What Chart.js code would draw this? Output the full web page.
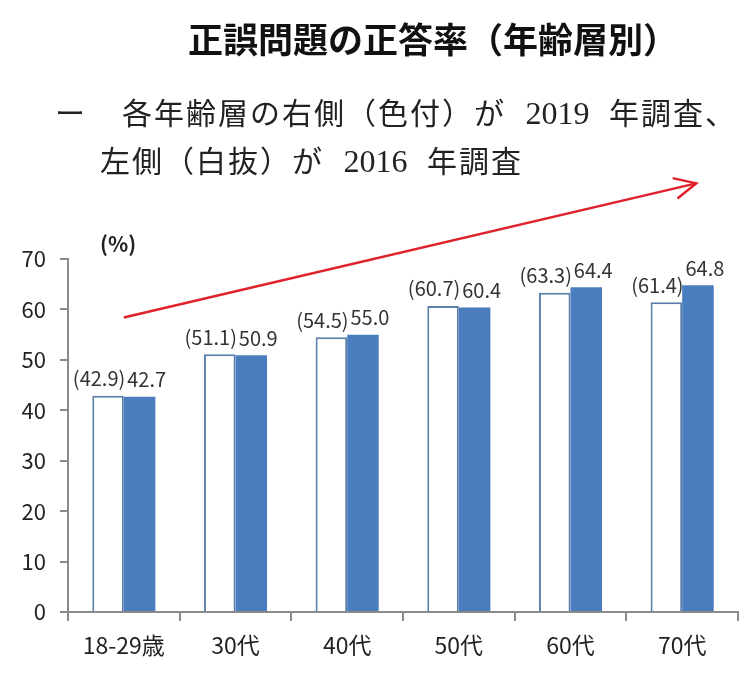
<!DOCTYPE html>
<html>
<head>
<meta charset="utf-8">
<script src="https://cdn.jsdelivr.net/npm/chart.js@4/dist/chart.umd.min.js"></script>
<style>
  html, body { margin: 0; padding: 0; background: #fff; }
  #wrap { position: relative; width: 750px; height: 676px; overflow: hidden; }
  #c { position: absolute; left: 0; top: 0; }
  .t { position: absolute; white-space: nowrap; color: #111; line-height: 1; }
  #title { left: 188px; top: 12px; font: bold 35px "Noto Sans CJK JP", sans-serif; }
  .sub { font: 30px "Liberation Serif", "Noto Sans CJK JP", serif; color: #222; word-spacing: 10px; letter-spacing: 2px; }
  .sub .n { font-size: 32px; letter-spacing: 0; }
  #s0 { left: 55px; top: 89px; }
  #s1 { left: 122px; top: 89px; }
  #s2 { left: 100px; top: 137px; }
  #pct { left: 100px; top: 228px; font: bold 21px "Noto Sans CJK JP", sans-serif; color: #222; }
</style>
</head>
<body>
<div id="wrap">
  <canvas id="c" width="750" height="676"></canvas>
  <div class="t" id="title">正誤問題の正答率（年齢層別）</div>
  <div class="t sub" id="s0">ー</div>
  <div class="t sub" id="s1">各年齢層の右側（色付）が <span class="n">2019</span> 年調査、</div>
  <div class="t sub" id="s2">左側（白抜）が <span class="n">2016</span> 年調査</div>
  <div class="t" id="pct">(%)</div>
</div>
<script>
// age groups
var categories = ["18-29歳", "30代", "40代", "50代", "60代", "70代"];
// 2016 survey (white, left)
var survey2016 = [42.9, 51.1, 54.5, 60.7, 63.3, 61.4];
// 2019 survey (blue, right)
var survey2019 = [42.7, 50.9, 55.0, 60.4, 64.4, 64.8];
var yTicks = [0, 10, 20, 30, 40, 50, 60, 70];

var labelFont = '20px "Noto Sans CJK JP", sans-serif';

var barLabels = {
  id: "barLabels",
  afterDatasetsDraw: function(chart) {
    var ctx = chart.ctx;
    ctx.save();
    ctx.font = labelFont;
    ctx.fillStyle = "#333";
    ctx.textAlign = "center";
    ctx.textBaseline = "bottom";
    chart.data.datasets.forEach(function(ds, di) {
      chart.getDatasetMeta(di).data.forEach(function(bar, i) {
        var v = ds.data[i].toFixed(1);
        if (di === 0) ctx.fillText("(" + v + ")", bar.x - 9, bar.y - 7);
        else ctx.fillText(v, bar.x + 7, bar.y - 7);
      });
    });
    ctx.restore();
  }
};

// red trend arrow, anchored to the scales
var trendArrow = {
  id: "trendArrow",
  afterDraw: function(chart) {
    var x = chart.scales.x, y = chart.scales.y, ctx = chart.ctx;
    var x0 = x.getPixelForValue(0), y0 = y.getPixelForValue(58.4);
    var x1 = x.getPixelForValue(5) + 14, y1 = y.getPixelForValue(85.0);
    var a = Math.atan2(y1 - y0, x1 - x0);
    ctx.save();
    ctx.strokeStyle = "#e0202a";
    ctx.lineWidth = 2.5;
    ctx.beginPath();
    ctx.moveTo(x0, y0);
    ctx.lineTo(x1, y1);
    ctx.stroke();
    ctx.beginPath();
    ctx.moveTo(x1 - 24 * Math.cos(a - 0.45), y1 - 24 * Math.sin(a - 0.45));
    ctx.lineTo(x1, y1);
    ctx.lineTo(x1 - 24 * Math.cos(a + 0.45), y1 - 24 * Math.sin(a + 0.45));
    ctx.stroke();
    ctx.restore();
  }
};

new Chart(document.getElementById("c"), {
  type: "bar",
  data: {
    labels: categories,
    datasets: [{
      label: "2016",
      data: survey2016,
      backgroundColor: "#ffffff",
      borderColor: "#5a7fab",
      borderWidth: 2,
      borderSkipped: "bottom"
    }, {
      label: "2019",
      data: survey2019,
      backgroundColor: "#4a7dbd",
      borderWidth: 0
    }]
  },
  options: {
    responsive: false,
    animation: false,
    events: [],
    layout: { padding: { top: 259, left: 0, right: 12, bottom: 0 } },
    barPercentage: 1.0,
    categoryPercentage: 0.565,
    plugins: { legend: { display: false }, tooltip: { enabled: false } },
    scales: {
      x: {
        afterFit: function(s) { s.height = 64; },
        grid: {
          display: true,
          offset: true,
          drawOnChartArea: false,
          tickLength: 9,
          color: "#8a8a8a",
          lineWidth: 2
        },
        border: { color: "#8a8a8a", width: 2 },
        ticks: {
          color: "#222",
          padding: 10,
          font: { family: "Noto Sans CJK JP", size: 23 }
        }
      },
      y: {
        min: 0,
        max: 70,
        afterFit: function(s) { s.width = 68; },
        afterBuildTicks: function(s) { s.ticks = yTicks.map(function(v) { return { value: v }; }); },
        grid: {
          display: true,
          drawOnChartArea: false,
          tickLength: 8,
          color: "#8a8a8a",
          lineWidth: 2
        },
        border: { color: "#8a8a8a", width: 2 },
        ticks: {
          color: "#222",
          padding: 14,
          font: { family: "Noto Sans CJK JP", size: 22 }
        }
      }
    }
  },
  plugins: [barLabels, trendArrow]
});
</script>
</body>
</html>
